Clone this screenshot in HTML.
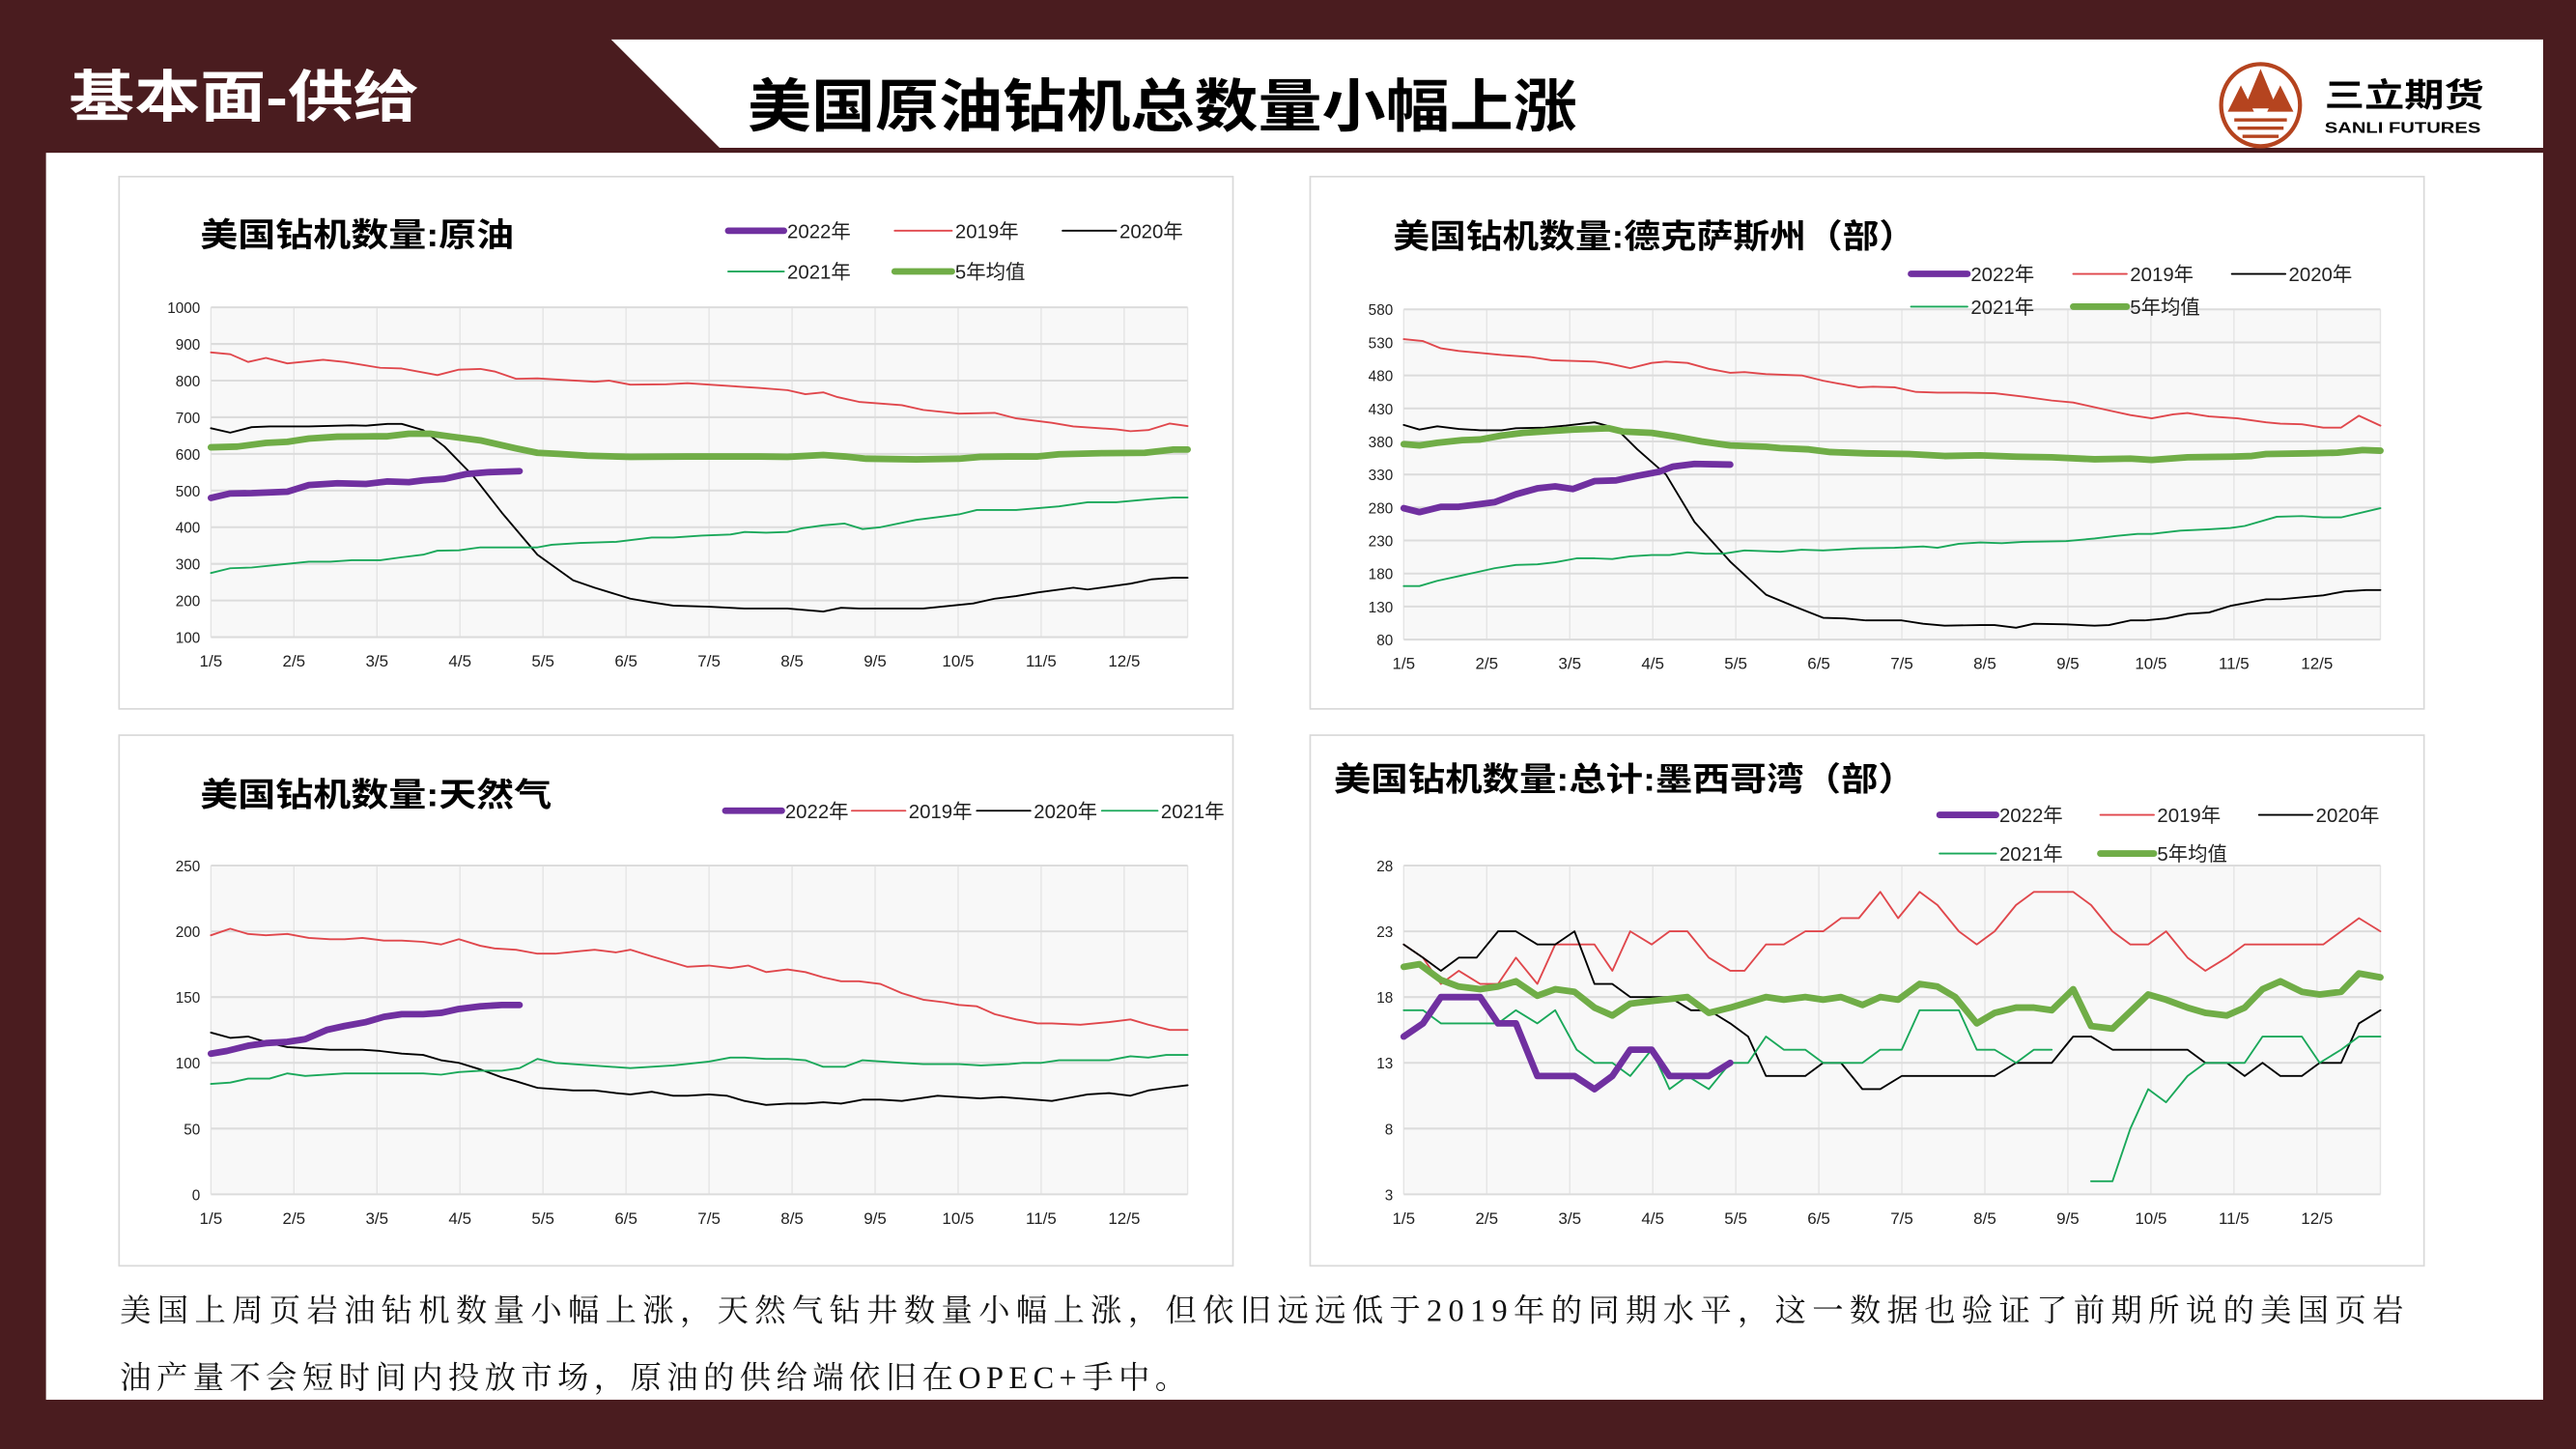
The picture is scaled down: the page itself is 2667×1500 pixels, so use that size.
<!DOCTYPE html>
<html><head><meta charset="utf-8">
<style>
html,body{margin:0;padding:0;background:#4a1c1f;}
svg{display:block;}
text{font-family:"Liberation Sans","Noto Sans CJK SC",sans-serif;}
.t{font-family:"Liberation Sans","Noto Sans CJK SC",sans-serif;font-weight:bold;}
.s{font-family:"Liberation Serif","Noto Serif CJK SC",serif;}
</style></head>
<body>
<svg id="sv" xmlns="http://www.w3.org/2000/svg" width="2667" height="1500" viewBox="0 0 1568 882" preserveAspectRatio="none">
<rect x="0" y="0" width="1568" height="882" fill="#4a1c1f"/>
<rect x="28" y="93" width="1520" height="759" fill="#ffffff"/>
<polygon points="372,24 1548,24 1548,90 438,90" fill="#ffffff"/>
<text x="42" y="71" class="t" font-size="34" fill="#ffffff" textLength="213" lengthAdjust="spacingAndGlyphs">基本面-供给</text>
<text x="455" y="77" class="t" font-size="35" fill="#000" textLength="505" lengthAdjust="spacingAndGlyphs">美国原油钻机总数量小幅上涨</text>
<g>
<ellipse cx="1376" cy="64" rx="24" ry="25" fill="none" stroke="#b5441f" stroke-width="2.5"/>
<polygon points="1376,42 1366,66 1386,66" fill="#b5441f"/>
<polygon points="1364,52 1356,68 1372,68" fill="#b5441f"/>
<polygon points="1388,52 1380,68 1396,68" fill="#b5441f"/>
<rect x="1360" y="72" width="32" height="2" fill="#b5441f"/>
<rect x="1362" y="77" width="28" height="2" fill="#b5441f"/>
<rect x="1365" y="82" width="22" height="2" fill="#b5441f"/>
<text x="1415" y="65" class="t" font-size="20" fill="#000" textLength="97" lengthAdjust="spacingAndGlyphs">三立期货</text>
<text x="1415" y="81" class="t" font-size="9" fill="#000" textLength="95" lengthAdjust="spacingAndGlyphs">SANLI FUTURES</text>
</g>
<rect x="72.5" y="107.5" width="678" height="324" fill="#fff" stroke="#d9d9d9"/>
<rect x="797.5" y="107.5" width="678" height="324" fill="#fff" stroke="#d9d9d9"/>
<rect x="72.5" y="447.5" width="678" height="323" fill="#fff" stroke="#d9d9d9"/>
<rect x="797.5" y="447.5" width="678" height="323" fill="#fff" stroke="#d9d9d9"/>
<g id="charts"></g>
<text x="73" y="804" class="s" font-size="19" fill="#111" textLength="1390" lengthAdjust="spacing">美国上周页岩油钻机数量小幅上涨，天然气钻井数量小幅上涨，但依旧远远低于2019年的同期水平，这一数据也验证了前期所说的美国页岩</text>
<text x="73" y="845" class="s" font-size="19" fill="#111" letter-spacing="3.2">油产量不会短时间内投放市场，原油的供给端依旧在OPEC+手中。</text>
</svg>
<script>
var NS="http://www.w3.org/2000/svg";
var G=document.getElementById("charts");
function el(t,a,txt){var e=document.createElementNS(NS,t);for(var k in a)e.setAttribute(k,a[k]);if(txt!=null)e.textContent=txt;G.appendChild(e);return e;}
var SX=0.4349,SY=0.21;
var C={p:"#7030a0",r:"#e0474c",k:"#000000",g:"#1aa85a",a:"#70ad47"};
var W={p:4,r:1.1,k:1.1,g:1.1,a:4};
var months=["1/5","2/5","3/5","4/5","5/5","6/5","7/5","8/5","9/5","10/5","11/5","12/5"];
function chart(c){
 var X=function(zx){return c.ox+zx*SX;},Y=function(zy){return c.oy+zy*SY;};
 var z0=c.pl[1],z1=c.pl[3];
 var V=function(v){return Y(z0+(c.ymax-v)/(c.ymax-c.ymin)*(z1-z0));};
 el("rect",{x:X(133),y:Y(z0),width:X(1500)-X(133),height:Y(z1)-Y(z0),fill:"#f8f8f8"});
 for(var m=0;m<12;m++){var x=X(133+116.2*m);el("line",{x1:x,x2:x,y1:Y(z0),y2:Y(z1),stroke:"#e4e4e4","stroke-width":0.8});
  el("text",{x:x,y:Y(z1)+18,"font-size":10,"text-anchor":"middle",fill:"#222"},months[m]);}
 el("line",{x1:X(1500),x2:X(1500),y1:Y(z0),y2:Y(z1),stroke:"#e4e4e4","stroke-width":0.8});
 for(var i=0;i<c.ticks.length;i++){var v=c.ticks[i],y=V(v);
  el("line",{x1:X(133),x2:X(1500),y1:y,y2:y,stroke:"#dcdcdc","stroke-width":1.2});
  el("text",{x:X(118),y:y+3.5,"font-size":9,"text-anchor":"end",fill:"#222"},v);}
 el("text",{x:X(c.title[0]),y:Y(c.title[1]),class:"t","font-size":20,fill:"#000",textLength:c.title[3],lengthAdjust:"spacingAndGlyphs"},c.title[2]);
 c.series.forEach(function(s){
  var d="";s.d.forEach(function(p,j){d+=(j?"L":"M")+X(p[0]).toFixed(2)+","+V(p[1]).toFixed(2);});
  el("path",{d:d,fill:"none",stroke:C[s.c],"stroke-width":W[s.c],"stroke-linejoin":"round","stroke-linecap":"round"});
 });
 c.leg.forEach(function(L){
  var y=Y(L[1]);
  el("line",{x1:X(L[0]),x2:X(L[2]),y1:y,y2:y,stroke:C[L[3]],"stroke-width":W[L[3]],"stroke-linecap":"round"});
  el("text",{x:X(L[2])+2,y:y+4.5,"font-size":12,fill:"#222"},L[4]);
 });
}
function pr(a){var r=[];for(var i=0;i<a.length;i+=2)r.push([a[i],a[i+1]]);return r;}
// TL
chart({ox:70.55,oy:105.8,pl:[133,387,1500,1343],ymin:100,ymax:1000,ticks:[1000,900,800,700,600,500,400,300,200,100],
title:[118,210,"美国钻机数量:原油",191],
leg:[[857,165,935,"p","2022年"],[1090,165,1170,"r","2019年"],[1325,165,1400,"k","2020年"],[857,283,935,"g","2021年"],[1090,283,1170,"a","5年均值"]],
series:[
{c:"r",d:pr([133,877,160,872,185,851,210,862,240,847,290,857,320,851,370,835,400,833,450,815,480,830,510,832,530,825,560,805,590,806,670,797,690,800,720,789,770,790,800,793,900,780,940,774,965,763,990,768,1010,755,1040,742,1100,733,1130,720,1180,710,1230,712,1260,697,1310,685,1340,675,1400,667,1420,662,1445,665,1475,683,1500,676])},
{c:"k",d:pr([133,670,160,658,190,673,215,675,270,675,330,678,350,677,380,682,400,682,430,665,460,620,500,540,540,440,590,325,640,255,670,235,720,205,750,195,780,186,830,183,880,178,940,178,990,170,1015,180,1040,178,1100,178,1130,178,1180,188,1200,192,1230,205,1260,212,1290,222,1340,235,1360,230,1420,246,1450,258,1480,262,1500,262])},
{c:"g",d:pr([133,275,160,288,190,290,240,300,270,306,300,306,330,310,370,310,400,318,430,325,450,336,480,337,510,345,590,345,610,352,650,357,700,360,750,372,780,372,820,377,860,380,880,387,910,385,940,387,960,397,990,405,1020,410,1045,395,1070,400,1120,420,1160,430,1180,435,1205,447,1260,447,1290,452,1320,457,1360,468,1400,468,1450,477,1480,481,1500,481])},
{c:"a",d:pr([133,618,170,620,210,630,240,633,270,642,310,647,360,648,380,648,410,655,440,655,470,647,510,637,560,615,590,603,620,600,660,595,720,592,800,593,900,593,940,592,990,597,1020,593,1050,587,1120,585,1180,587,1210,592,1250,593,1290,593,1320,599,1380,602,1440,603,1480,612,1500,612])},
{c:"p",d:pr([133,480,160,492,190,493,240,497,270,515,310,520,350,518,380,525,410,523,430,528,460,532,490,545,520,550,565,553])}
]});
// TR
chart({ox:796.6,oy:105.8,pl:[133,393,1500,1350],ymin:80,ymax:580,ticks:[580,530,480,430,380,330,280,230,180,130,80],
title:[118,215,"美国钻机数量:德克萨斯州（部）",318],
leg:[[843,290,922,"p","2022年"],[1070,290,1145,"r","2019年"],[1292,290,1367,"k","2020年"],[843,385,922,"g","2021年"],[1070,385,1145,"a","5年均值"]],
series:[
{c:"r",d:pr([133,535,160,532,185,521,210,517,270,511,310,508,340,503,400,501,420,498,450,491,480,499,500,501,530,499,560,490,590,484,610,485,640,482,690,480,720,472,770,462,790,463,820,462,850,455,880,454,920,454,960,453,1000,448,1040,442,1070,439,1120,427,1150,420,1180,415,1210,421,1230,423,1260,418,1300,415,1340,409,1360,407,1390,406,1420,401,1445,401,1470,419,1500,404])},
{c:"k",d:pr([133,405,155,398,180,403,210,399,240,397,270,397,290,400,330,401,360,404,400,409,430,400,460,368,500,330,540,258,590,198,640,148,680,130,720,113,750,112,780,109,830,109,860,104,890,101,940,102,960,102,990,98,1015,104,1060,103,1100,101,1120,102,1150,109,1170,109,1200,112,1230,119,1260,121,1290,131,1340,141,1360,141,1420,147,1450,153,1480,155,1500,155])},
{c:"g",d:pr([133,161,155,161,180,169,210,176,260,188,290,193,320,194,345,197,375,203,400,203,425,202,450,206,480,208,505,208,530,212,555,210,580,210,610,215,660,213,690,216,720,215,770,218,820,219,860,221,880,219,910,225,940,227,970,226,1000,228,1060,229,1100,233,1130,237,1160,240,1180,240,1220,245,1260,247,1290,249,1310,252,1355,266,1390,267,1420,265,1445,265,1500,279])},
{c:"a",d:pr([133,376,155,374,180,378,215,382,240,383,270,389,300,393,340,396,370,398,420,400,440,395,480,393,510,388,550,380,590,374,640,372,660,370,700,368,730,364,780,362,840,361,890,358,940,359,990,357,1040,356,1100,353,1150,354,1180,352,1230,356,1290,357,1320,358,1340,361,1400,362,1440,363,1475,367,1500,366])},
{c:"p",d:pr([133,279,155,273,185,281,210,281,260,288,290,300,320,309,345,312,370,308,400,320,430,321,460,328,490,334,510,342,540,346,590,345])}
]});
// BL
chart({ox:70.55,oy:445.6,pl:[133,387,1500,1340],ymin:0,ymax:250,ticks:[250,200,150,100,50,0],
title:[118,215,"美国钻机数量:天然气",214],
leg:[[853,228,932,"p","2022年"],[1030,228,1105,"r","2019年"],[1205,228,1280,"k","2020年"],[1380,228,1458,"g","2021年"]],
series:[
{c:"r",d:pr([133,197,160,202,185,198,210,197,240,198,270,195,300,194,320,194,345,195,375,193,400,193,430,192,455,190,480,194,510,189,530,187,560,186,590,183,615,183,650,185,670,186,700,184,720,186,750,181,800,173,830,174,860,172,885,174,910,169,940,171,965,169,990,165,1015,162,1040,162,1070,160,1100,153,1130,148,1160,146,1180,144,1205,143,1230,137,1260,133,1290,130,1310,130,1350,129,1390,131,1420,133,1445,129,1475,125,1500,125])},
{c:"k",d:pr([133,123,160,119,185,120,215,115,240,112,300,110,345,110,370,109,400,107,430,106,455,102,480,100,510,95,540,89,560,86,590,81,640,79,670,79,700,77,720,76,750,78,780,75,800,75,830,76,855,75,880,71,910,68,940,69,965,69,990,70,1015,69,1045,72,1070,72,1100,71,1150,75,1210,73,1240,74,1310,71,1330,73,1360,76,1390,77,1420,75,1445,79,1470,81,1500,83])},
{c:"g",d:pr([133,84,160,85,185,88,215,88,240,92,265,90,320,92,430,92,455,91,480,93,510,94,540,94,565,96,590,103,615,100,720,96,780,98,830,101,860,104,880,104,910,103,940,103,965,102,990,97,1020,97,1045,102,1100,100,1130,99,1180,99,1210,98,1250,99,1270,100,1295,100,1320,102,1360,102,1390,102,1420,105,1445,104,1470,106,1500,106])},
{c:"p",d:pr([133,107,155,109,185,113,210,115,240,116,265,118,295,125,320,128,350,131,375,135,400,137,430,137,455,138,480,141,510,143,540,144,565,144])}
]});
// BR
chart({ox:796.6,oy:445.6,pl:[133,387,1500,1340],ymin:3,ymax:28,ticks:[28,23,18,13,8,3],
title:[35,170,"美国钻机数量:总计:墨西哥湾（部）",354],
leg:[[883,240,962,"p","2022年"],[1108,240,1183,"r","2019年"],[1330,240,1405,"k","2020年"],[883,352,962,"g","2021年"],[1108,352,1183,"a","5年均值"]],
series:[
{c:"r",d:pr([133,22,160,21,185,19,210,20,240,19,265,19,290,21,320,19,345,22,400,22,425,20,450,23,480,22,505,23,530,23,560,21,590,20,610,20,640,22,665,22,695,23,720,23,745,24,770,24,800,26,825,24,855,26,880,25,910,23,935,22,960,23,990,25,1015,26,1070,26,1095,25,1125,23,1150,22,1175,22,1200,23,1230,21,1255,20,1285,21,1310,22,1420,22,1445,23,1470,24,1500,23])},
{c:"k",d:pr([133,22,160,21,185,20,210,21,235,21,265,23,290,23,320,22,345,22,372,23,400,19,425,19,450,18,505,18,535,17,560,17,590,16,615,15,640,12,695,12,720,13,745,13,775,11,800,11,830,12,960,12,990,13,1040,13,1070,15,1095,15,1125,14,1230,14,1255,13,1285,13,1310,12,1335,13,1360,12,1390,12,1415,13,1445,13,1470,16,1500,17])},
{c:"g",d:pr([133,17,160,17,185,16,265,16,290,17,320,16,345,17,375,14,400,13,425,13,450,12,480,14,505,11,530,12,560,11,590,13,615,13,640,15,665,14,695,14,720,13,775,13,800,14,830,14,855,17,910,17,935,14,960,14,990,13,1015,14,1040,14])},
{c:"g",d:pr([1095,4,1125,4,1150,8,1175,11,1200,10,1230,12,1255,13,1310,13,1335,15,1390,15,1415,13,1445,14,1470,15,1500,15])},
{c:"a",d:pr([133,20.3,155,20.5,185,19.3,210,18.8,240,18.6,265,18.8,290,19.2,320,18.1,345,18.6,372,18.4,400,17.2,425,16.6,450,17.5,480,17.7,530,18.0,560,16.8,590,17.2,640,18.0,665,17.8,695,18.0,720,17.8,745,18.0,775,17.4,800,18.0,825,17.8,855,19.0,880,18.8,905,18.0,935,16.0,960,16.8,990,17.2,1015,17.2,1040,17.0,1070,18.6,1095,15.8,1125,15.6,1175,18.2,1200,17.8,1230,17.2,1255,16.8,1285,16.6,1310,17.2,1335,18.6,1360,19.2,1390,18.4,1415,18.2,1445,18.4,1470,19.8,1500,19.5])},
{c:"p",d:pr([133,15,160,16,185,18,240,18,265,16,290,16,320,12,372,12,400,11,425,12,450,14,480,14,505,12,560,12,590,13])}
]});
</script>
</body></html>
